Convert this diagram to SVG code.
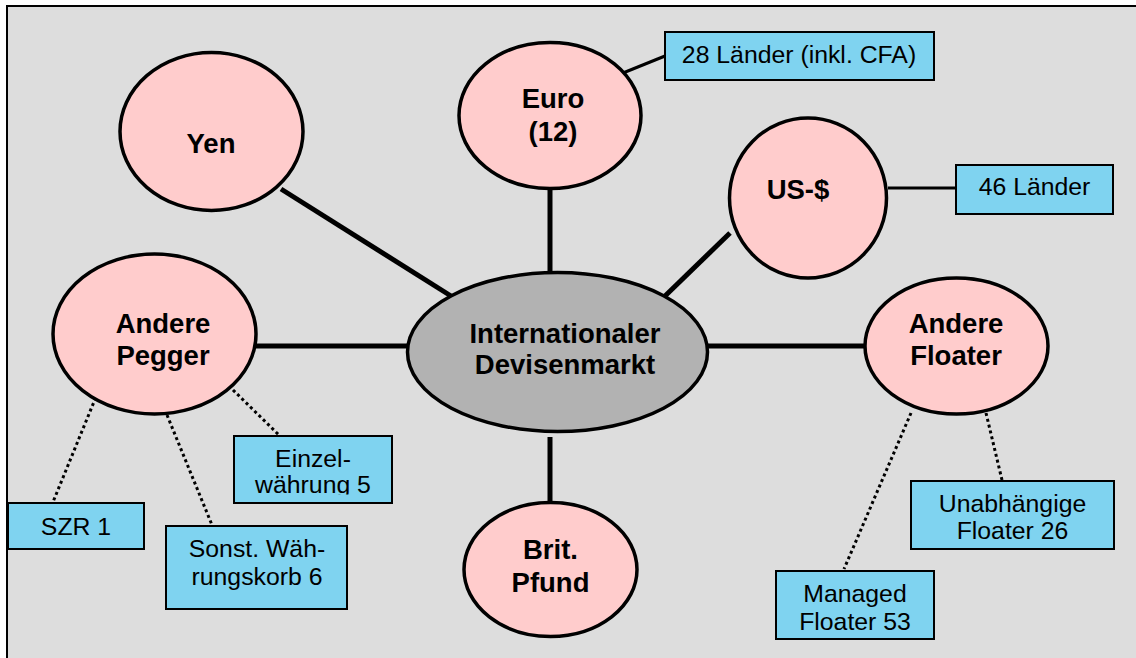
<svg xmlns="http://www.w3.org/2000/svg" width="1136" height="658" viewBox="0 0 1136 658">
<defs>
<style>
.bg{fill:#dddddd;stroke:#000;stroke-width:2}
.cur{fill:#ffcccc;stroke:#000;stroke-width:3.5}
.hub{fill:#b2b2b2;stroke:#000;stroke-width:3.5}
.box{fill:#7fd3f0;stroke:#000;stroke-width:2}
.main{stroke:#000;stroke-width:5;fill:none}
.thin{stroke:#000;stroke-width:3;fill:none}
.dot{stroke:#000;stroke-width:3;fill:none;stroke-dasharray:3 3}
.b{font-family:"Liberation Sans",Arial,sans-serif;font-weight:bold;font-size:27.5px;text-anchor:middle;fill:#000}
.r{font-family:"Liberation Sans",Arial,sans-serif;font-size:24.8px;text-anchor:middle;fill:#000}
</style>
<clipPath id="clipEinzel"><rect x="234" y="436" width="158" height="58.5"/></clipPath>
</defs>
<rect x="0" y="0" width="1136" height="658" fill="#ffffff"/>
<rect class="bg" x="7" y="6" width="1140" height="670"/>
<g id="connectors">
<line class="main" x1="281" y1="189" x2="451" y2="296"/>
<line class="main" x1="550" y1="188" x2="550" y2="277"/>
<line class="main" x1="665" y1="296" x2="730" y2="233"/>
<line class="main" x1="256" y1="346" x2="408" y2="346"/>
<line class="main" x1="708" y1="346" x2="865" y2="346"/>
<line class="main" x1="550" y1="437" x2="550" y2="507"/>
<line class="thin" x1="618" y1="75" x2="665" y2="56"/>
<line class="thin" x1="888" y1="188" x2="956" y2="188"/>
<line class="dot" x1="98" y1="392" x2="53" y2="502"/>
<line class="dot" x1="167" y1="415" x2="212" y2="525"/>
<line class="dot" x1="233" y1="390" x2="280" y2="436"/>
<line class="dot" x1="911" y1="413" x2="844" y2="569"/>
<line class="dot" x1="986" y1="413" x2="1002" y2="480"/>
</g>
<g id="yen">
<ellipse class="cur" cx="211.5" cy="131.5" rx="91.5" ry="79"/>
<text class="b" x="211" y="153">Yen</text>
</g>
<g id="euro">
<ellipse class="cur" cx="550" cy="115.5" rx="91" ry="73"/>
<text class="b" x="553" y="108">Euro</text>
<text class="b" x="553" y="141">(12)</text>
</g>
<g id="usd">
<ellipse class="cur" cx="808" cy="198" rx="78.5" ry="80"/>
<text class="b" x="798" y="199">US-$</text>
</g>
<g id="hub">
<ellipse class="hub" cx="557.5" cy="352" rx="150" ry="79.5"/>
<text class="b" x="565" y="343">Internationaler</text>
<text class="b" x="565" y="374">Devisenmarkt</text>
</g>
<g id="pegger">
<ellipse class="cur" cx="154.5" cy="334" rx="101.5" ry="80"/>
<text class="b" x="163" y="333">Andere</text>
<text class="b" x="163" y="365">Pegger</text>
</g>
<g id="floater">
<ellipse class="cur" cx="956.5" cy="346" rx="91.5" ry="68"/>
<text class="b" x="956" y="333">Andere</text>
<text class="b" x="956" y="365">Floater</text>
</g>
<g id="pfund">
<ellipse class="cur" cx="550.5" cy="569.5" rx="86.5" ry="67"/>
<text class="b" x="550.5" y="559">Brit.</text>
<text class="b" x="550.5" y="592">Pfund</text>
</g>
<g id="box-euro">
<rect class="box" x="665" y="32" width="269" height="48"/>
<text class="r" x="799" y="63">28 Länder (inkl. CFA)</text>
</g>
<g id="box-usd">
<rect class="box" x="956" y="165" width="157" height="49"/>
<text class="r" x="1034.5" y="195">46 Länder</text>
</g>
<g id="box-szr">
<rect class="box" x="8" y="503" width="136" height="46"/>
<text class="r" x="76" y="535">SZR 1</text>
</g>
<g id="box-sonst">
<rect class="box" x="166" y="526" width="181" height="83"/>
<text class="r" x="257" y="557">Sonst. Wäh-</text>
<text class="r" x="257" y="585">rungskorb 6</text>
</g>
<g id="box-einzel">
<rect class="box" x="234" y="436" width="158" height="67"/>
<text class="r" x="313" y="467">Einzel-</text>
<text class="r" x="313" y="493" clip-path="url(#clipEinzel)">währung 5</text>
</g>
<g id="box-managed">
<rect class="box" x="776" y="571" width="158" height="68"/>
<text class="r" x="855" y="602">Managed</text>
<text class="r" x="855" y="630">Floater 53</text>
</g>
<g id="box-unabh">
<rect class="box" x="911" y="481" width="203" height="68"/>
<text class="r" x="1012.5" y="512">Unabhängige</text>
<text class="r" x="1012.5" y="539">Floater 26</text>
</g>
</svg>
